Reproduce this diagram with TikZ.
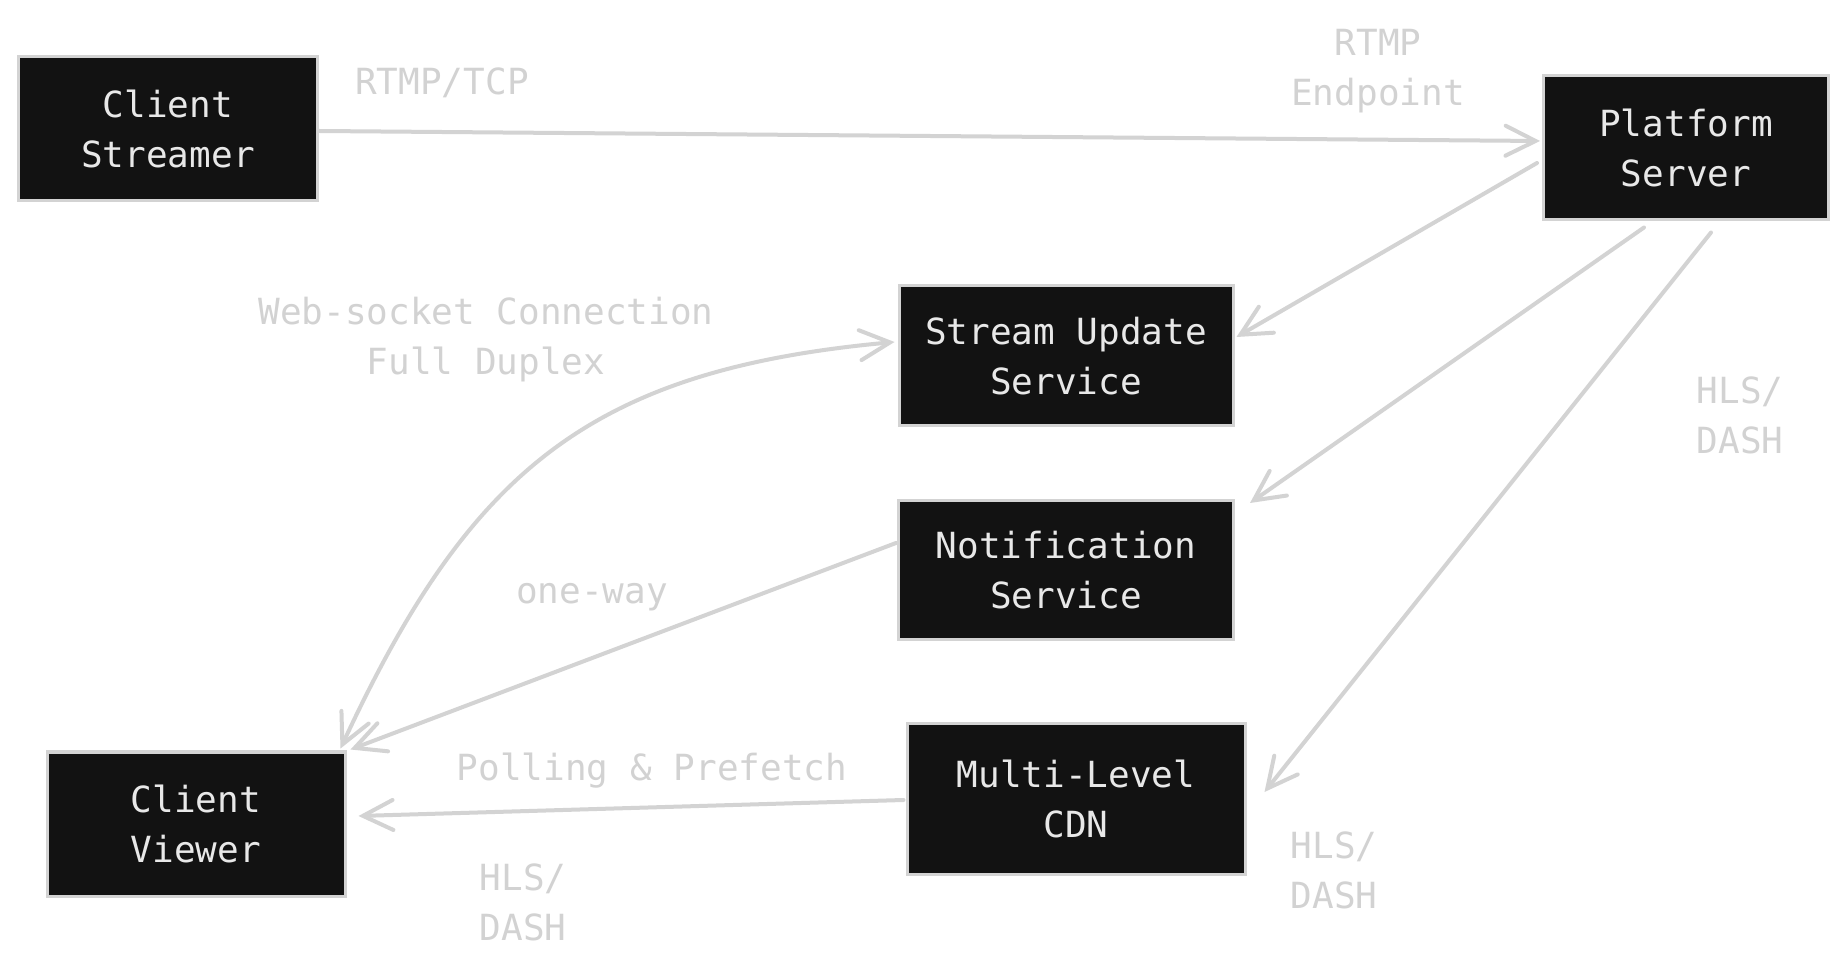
\documentclass[tikz,border=0pt]{standalone}
\usepackage{fontspec}
\setmonofont{DejaVu Sans Mono}
\usepackage{xcolor}
\usepackage{tikz}
\usetikzlibrary{arrows.meta,calc}
\definecolor{boxfill}{HTML}{121212}
\definecolor{edgegray}{HTML}{D3D3D3}
\definecolor{labelgray}{HTML}{D2D2D2}
\definecolor{boxtext}{HTML}{E8E8E8}

\begin{document}
\begin{tikzpicture}[x=0.5pt,y=-0.5pt,
	block/.style={draw=edgegray,line width=1.5pt,fill=boxfill,text=boxtext,align=center,inner sep=0pt,font=\ttfamily\fontsize{18}{25}\selectfont},
	lbl/.style={text=labelgray,align=center,inner sep=0pt,font=\ttfamily\fontsize{18}{25}\selectfont},
	flow/.style={draw=edgegray,line width=2pt,line cap=round,-{Straight Barb[length=15pt,width=15pt,line cap=round]}},
	duplex/.style={flow,{Straight Barb[length=15pt,width=15pt,line cap=round]}-{Straight Barb[length=15pt,width=15pt,line cap=round]}}]
	\useasboundingbox[fill=white] (0,0) rectangle (1848,972);

	\node[block,minimum width=149.5pt,minimum height=72pt] (cs) at (168,129) {Client\\Streamer};
	\node[block,minimum width=142.5pt,minimum height=72pt] (ps) at (1686,148) {Platform\\Server};
	\node[block,minimum width=167pt,minimum height=70pt] (sus) at (1066,356) {Stream Update\\Service};
	\node[block,minimum width=167.5pt,minimum height=69.5pt] (ns) at (1066,570) {Notification\\Service};
	\node[block,minimum width=169pt,minimum height=75pt] (cdn) at (1076,799) {Multi-Level\\CDN};
	\node[block,minimum width=149pt,minimum height=72pt] (cv) at (196,824) {Client\\Viewer};

	\node[lbl] (rtmptcp) at (442,83) {RTMP/TCP};
	\node[lbl] (rtmpend) at (1378,71) {RTMP\\Endpoint};
	\node[lbl] (websock) at (486,340) {Web-socket Connection\\Full Duplex};
	\node[lbl] (oneway) at (592,597) {one-way};
	\node[lbl] (polling) at (652,771) {Polling \& Prefetch};
	\node[lbl] (hlsviewer) at (523,902) {HLS/\\DASH};
	\node[lbl] (hlscdn) at (1334,870) {HLS/\\DASH};
	\node[lbl] (hlsserver) at (1740,415) {HLS/\\DASH};

	\draw[flow] ($(cs.east)+(0,2)$) -- ($(ps.west)+(-2,-7)$);
	\draw[flow] ($(ps.west)+(-5,15)$) -- ($(sus.east)+(2,-19)$);
	\draw[flow] ($(ps.south)+(-42,6)$) -- ($(ns.north east)+(15,4)$);
	\draw[flow] ($(ps.south)+(25,11)$) -- ($(cdn.east)+(18,-7)$);
	\draw[flow] ($(ns.west)+(-1,-27)$) -- ($(cv.north east)+(4,-1)$);
	\draw[duplex] ($(cv.north east)+(-6,-2)$) .. controls (470,470) and (590,370) .. ($(sus.west)+(-3,-14)$);
	\draw[flow] ($(cdn.west)+(-2,1)$) -- ($(cv.east)+(12,-8)$);
\end{tikzpicture}
\end{document}
